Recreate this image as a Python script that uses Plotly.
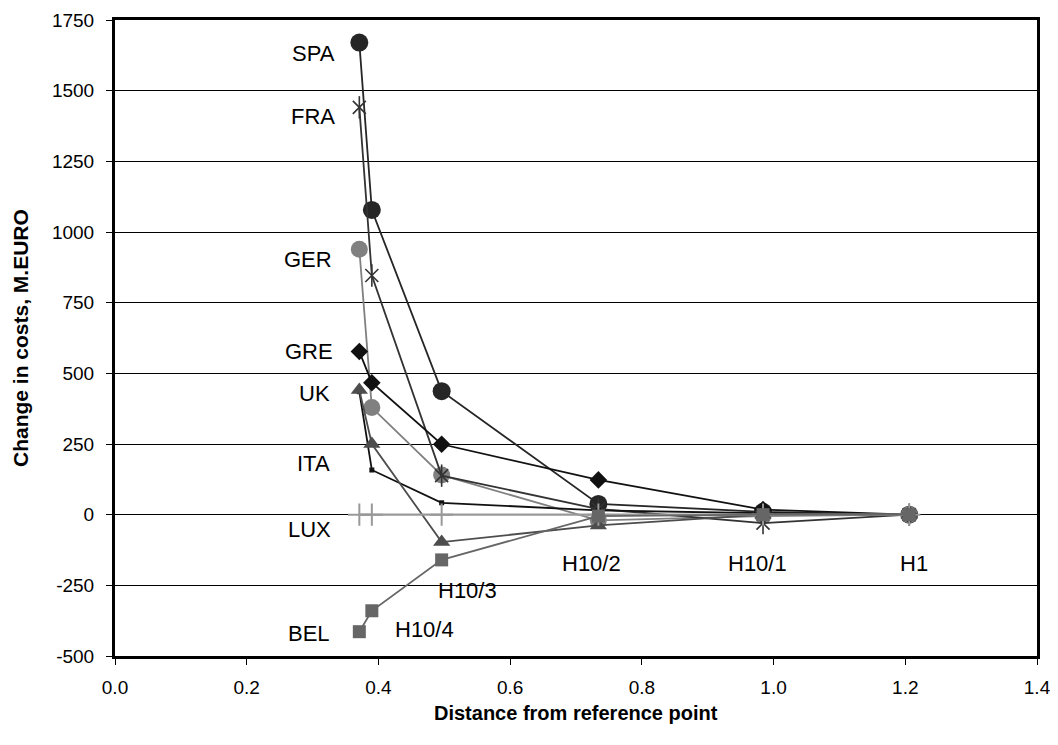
import plotly.graph_objects as go

# Distance from reference point (shared by all series)
distance = [0.371, 0.39, 0.496, 0.734, 0.984, 1.206]

# Change in costs, M.EURO
SPA = [1670, 1078, 437, 38, 10, 0]
FRA = [1441, 846, 138, 20, -30, 0]
GER = [939, 379, 140, -20, -5, 0]
GRE = [577, 467, 249, 123, 18, 0]
UK = [441, 250, -97, -38, 0, 0]
ITA = [435, 158, 42, 15, 5, 0]
LUX = [0, 0, 0, 0, 0, 0]
BEL = [-414, -340, -160, -5, 0, 0]

country_names = ["SPA", "FRA", "GER", "GRE", "UK", "ITA", "LUX", "BEL"]
country_label_y = [1632, 1408, 903, 579, 429, 182, -54, -420]
country_label_x = [0.337, 0.337, 0.332, 0.334, 0.329, 0.329, 0.331, 0.329]

scenario_names = ["H10/4", "H10/3", "H10/2", "H10/1", "H1"]
scenario_label_x = [0.47, 0.535, 0.723, 0.975, 1.213]
scenario_label_y = [-407, -267, -171, -171, -171]

x_ticks = [0, 0.2, 0.4, 0.6, 0.8, 1.0, 1.2, 1.4]
x_ticklabels = ["0.0", "0.2", "0.4", "0.6", "0.8", "1.0", "1.2", "1.4"]
y_ticks = [-500, -250, 0, 250, 500, 750, 1000, 1250, 1500, 1750]
y_ticklabels = ["-500", "-250", "0", "250", "500", "750", "1000", "1250", "1500", "1750"]

series = [
    ("SPA", SPA, dict(symbol="circle", size=18, color="#262626"), "#262626", 1.8),
    ("GER", GER, dict(symbol="circle", size=17, color="#808080"), "#808080", 1.8),
    ("FRA", FRA, dict(symbol="x-thin-open", size=13, color="#333333",
                      line=dict(color="#333333", width=1.6)), "#333333", 1.8),
    ("GRE", GRE, dict(symbol="diamond", size=13.5, color="#111111"), "#111111", 1.8),
    ("ITA", ITA, dict(symbol="square", size=5, color="#111111"), "#111111", 1.8),
    ("UK", UK, dict(symbol="triangle-up", size=15, color="#4d4d4d"), "#4d4d4d", 1.8),
    ("LUX", LUX, dict(symbol="cross-thin-open", size=16, color="#999999",
                      line=dict(color="#999999", width=2)), "#999999", 2.2),
    ("BEL", BEL, dict(symbol="square", size=13, color="#666666"), "#666666", 1.8),
]

fig = go.Figure()
for name, ys, marker, lc, lw in series:
    fig.add_trace(go.Scatter(
        x=distance, y=ys, mode="lines+markers", name=name,
        line=dict(color=lc, width=lw), marker=marker, showlegend=False,
        cliponaxis=False,
    ))
    if name == "FRA":
        # vertical stroke completing the Excel-style star marker
        fig.add_trace(go.Scatter(
            x=distance, y=ys, mode="markers", showlegend=False,
            marker=dict(symbol="line-ns-open", size=16, color="#333333",
                        line=dict(color="#333333", width=1.6)),
            cliponaxis=False, hoverinfo="skip",
        ))

font = "Liberation Sans, Arial, sans-serif"
annotations = []
for n, x, y in zip(country_names, country_label_x, country_label_y):
    annotations.append(dict(x=x, y=y, xref="x", yref="y", text=n, showarrow=False,
                            xanchor="right", yanchor="middle",
                            font=dict(family=font, size=22, color="black")))
for n, x, y in zip(scenario_names, scenario_label_x, scenario_label_y):
    annotations.append(dict(x=x, y=y, xref="x", yref="y", text=n, showarrow=False,
                            xanchor="center", yanchor="middle",
                            font=dict(family=font, size=22, color="black")))
# axis titles
annotations.append(dict(x=0.5, y=-0.089, xref="paper", yref="paper",
                        text="<b>Distance from reference point</b>", showarrow=False,
                        xanchor="center", yanchor="middle",
                        font=dict(family=font, size=20, color="black")))
annotations.append(dict(x=-0.103, y=0.5, xref="paper", yref="paper",
                        text="<b>Change in costs, M.EURO</b>", showarrow=False,
                        textangle=-90, xanchor="center", yanchor="middle",
                        font=dict(family=font, size=21, color="black")))

fig.update_layout(
    width=1050, height=737,
    margin=dict(l=107, r=21, t=12, b=89),
    paper_bgcolor="white", plot_bgcolor="white",
    font=dict(family=font, size=19, color="black"),
    annotations=annotations,
    xaxis=dict(
        range=[0, 1.4], tickvals=x_ticks, ticktext=x_ticklabels,
        showgrid=False, zeroline=False,
        showline=True, linecolor="black", linewidth=3, mirror=True,
        ticks="outside", ticklen=6, tickcolor="black", tickwidth=1,
        tickfont=dict(family=font, size=19), ticklabelstandoff=6,
        automargin=False,
    ),
    yaxis=dict(
        range=[-500, 1750], tickvals=y_ticks, ticktext=y_ticklabels,
        showgrid=True, gridcolor="black", gridwidth=1, zeroline=False,
        showline=True, linecolor="black", linewidth=3, mirror=True,
        ticks="outside", ticklen=6, tickcolor="black", tickwidth=1,
        tickfont=dict(family=font, size=19), ticklabelstandoff=8,
        automargin=False,
    ),
)

fig.write_html("out.html")
